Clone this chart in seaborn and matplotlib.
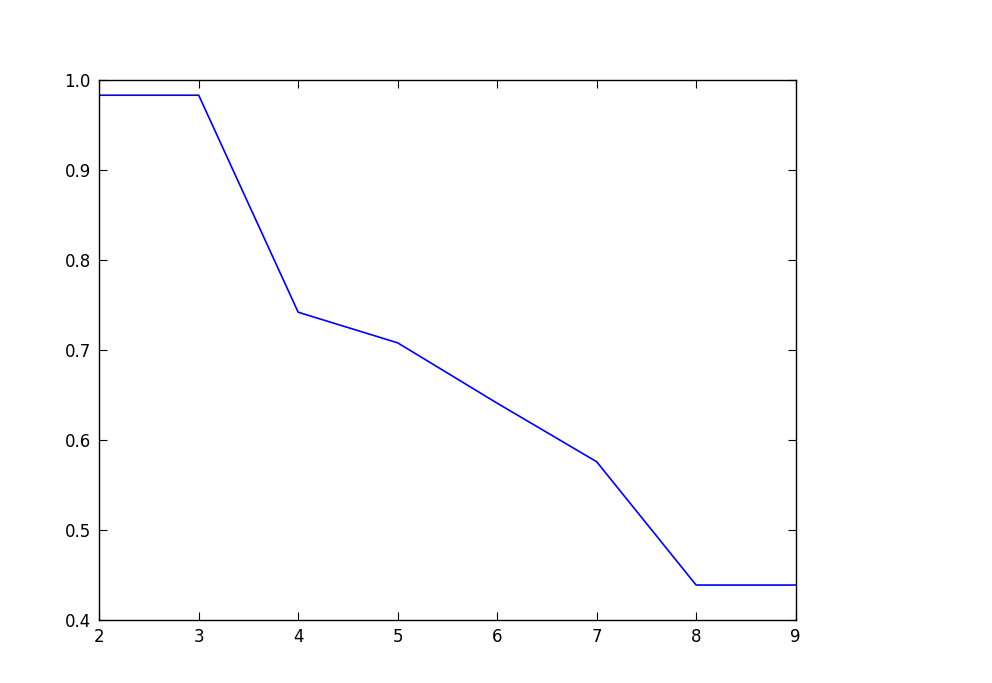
import matplotlib
matplotlib.use("Agg")
import matplotlib.pyplot as plt
import seaborn as sns
import pandas as pd

x_values = [2, 3, 4, 5, 6, 7, 8, 9]
y_values = [0.983, 0.983, 0.742, 0.708, 0.641, 0.576, 0.439, 0.439]

sns.set_style("white")
plt.rcParams['font.family'] = ['DejaVu Sans']

df = pd.DataFrame({"x": x_values, "y": y_values})

fig = plt.figure(figsize=(9.92, 6.83), dpi=100)
ax = fig.add_axes([0.1, 0.092, 0.702, 0.791])
sns.lineplot(data=df, x="x", y="y", ax=ax, color="#0000ff", linewidth=1.2)

ax.set_xlim(2, 9)
ax.set_ylim(0.4, 1.0)
ax.set_xticks(range(2, 10))
ax.set_yticks([0.4, 0.5, 0.6, 0.7, 0.8, 0.9, 1.0])
ax.set_xlabel("")
ax.set_ylabel("")
ax.tick_params(direction="in", length=6, width=0.8, top=True, right=True,
               bottom=True, left=True, labelsize=12, colors="black", pad=6)
for s in ax.spines.values():
    s.set_visible(True)
    s.set_color("black")
    s.set_linewidth(1.0)

fig.savefig("out.png", dpi=100)
